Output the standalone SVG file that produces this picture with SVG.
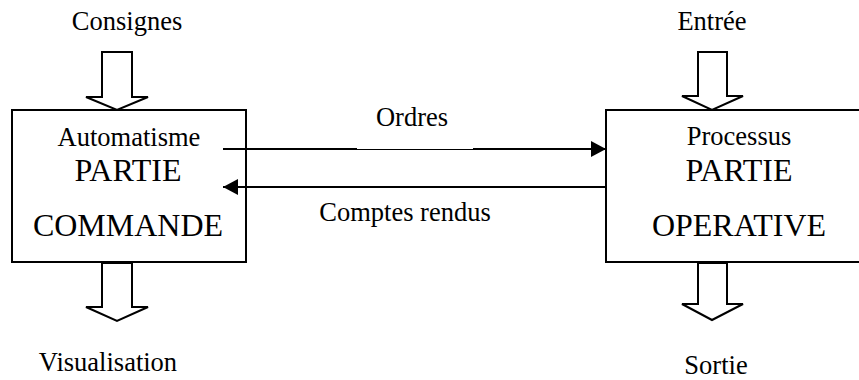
<svg xmlns="http://www.w3.org/2000/svg" width="859" height="380" viewBox="0 0 859 380">
  <style>
    .txt text { fill: #000; text-anchor: middle; }
    .lbl { font-size: 26.5px; }
    .big { font-size: 32px; }
    .box { fill: #fff; stroke: #000; stroke-width: 2; }
    .flow { fill: #fff; stroke: #000; stroke-width: 2; stroke-linejoin: miter; }
    .wire { stroke: #000; stroke-width: 2; fill: none; }
    .thin { stroke: #000; stroke-width: 1; fill: none; }
  </style>
  <defs>
    <marker id="head" viewBox="0 0 15 16" refX="15" refY="8" markerWidth="15" markerHeight="16" markerUnits="userSpaceOnUse" orient="auto">
      <path d="M0,0 L15,8 L0,16 Z" fill="#000"/>
    </marker>
  </defs>
  <rect width="859" height="380" fill="#fff"/>

  <g class="txt" font-family="'Liberation Serif', Tinos, 'Times New Roman', 'DejaVu Serif', serif">
    <!-- Outer flows -->
    <g id="consignes">
      <text class="lbl" x="127" y="30">Consignes</text>
      <path class="flow" d="M102,52 H132 V97 H148 L117,110 L86,97 H102 Z"/>
    </g>
    <g id="visualisation">
      <path class="flow" d="M102,263 H132 V307 H148 L117,321 L86,307 H102 Z"/>
      <text class="lbl" x="108" y="371">Visualisation</text>
    </g>
    <g id="entree">
      <text class="lbl" x="712" y="30">Entrée</text>
      <path class="flow" d="M698,52 H727 V96 H743 L712,110 L682,96 H698 Z"/>
    </g>
    <g id="sortie">
      <path class="flow" d="M698,263 H727 V304 H743 L712,320 L682,304 H698 Z"/>
      <text class="lbl" x="716" y="374">Sortie</text>
    </g>

    <!-- Control part -->
    <g id="partie-commande">
      <rect class="box" x="12" y="110" width="234" height="152"/>
      <text class="lbl" x="129" y="146">Automatisme</text>
      <text class="big" x="128" y="181">PARTIE</text>
      <text class="big" x="128" y="236">COMMANDE</text>
    </g>

    <!-- Operative part -->
    <g id="partie-operative">
      <rect class="box" x="606" y="110" width="266" height="152"/>
      <text class="lbl" x="739" y="145">Processus</text>
      <text class="big" x="739" y="181">PARTIE</text>
      <text class="big" x="739" y="236">OPERATIVE</text>
    </g>

    <!-- Connectors -->
    <g id="connectors">
      <path class="wire" d="M223,149 H357"/>
      <path class="thin" d="M357,149.5 H473"/>
      <path class="wire" d="M473,149 H606" marker-end="url(#head)"/>
      <text class="lbl" x="412" y="126">Ordres</text>
      <path class="wire" d="M606,187 H223" marker-end="url(#head)"/>
      <text class="lbl" x="405" y="221">Comptes rendus</text>
    </g>
  </g>
</svg>
